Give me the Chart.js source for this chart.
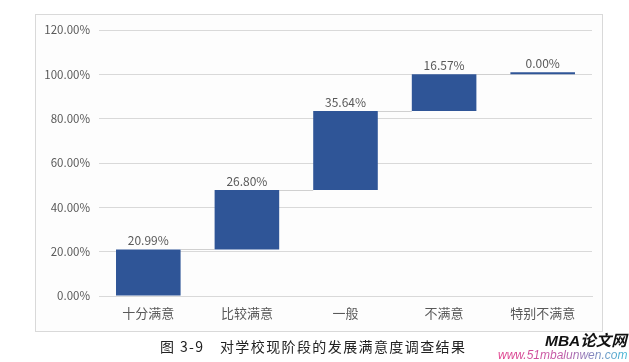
<!DOCTYPE html>
<html>
<head>
<meta charset="utf-8">
<script src="https://cdn.jsdelivr.net/npm/chart.js@4/dist/chart.umd.min.js"></script>
<style>
  html, body { margin: 0; padding: 0; background: #ffffff; }
  #wrap { position: relative; width: 629px; height: 362px; overflow: hidden; }
  #frame {
    position: absolute; left: 35px; top: 14px; width: 566px; height: 316px;
    border: 1px solid #d9d9d9; background: #fdfdfd;
  }
  #chart { position: absolute; left: 0; top: 0; }
  #caption {
    position: absolute; left: 160px; top: 336px; font-size: 14px; letter-spacing: 1.4px;
    color: #222; font-family: "Noto Sans CJK SC", sans-serif; white-space: nowrap;
  }
  #logo {
    position: absolute; left: 545px; top: 331px; font-size: 15.5px; font-weight: bold;
    font-style: italic; color: #111; font-family: "Liberation Sans", "Noto Sans CJK SC", sans-serif;
    white-space: nowrap; line-height: 20px;
  }
  #site {
    position: absolute; left: 498px; top: 348px; font-size: 12px; font-style: italic;
    font-family: "Liberation Sans", sans-serif; white-space: nowrap; line-height: 14px;
    background: linear-gradient(90deg, #e23c8a, #c05aa8, #3fb8d6);
    -webkit-background-clip: text; background-clip: text; color: transparent;
  }
</style>
</head>
<body>
<div id="wrap">
  <div id="frame"></div>
  <canvas id="chart" width="629" height="362"></canvas>
  <div id="caption">图 3-9　对学校现阶段的发展满意度调查结果</div>
  <div id="logo">MBA论文网</div>
  <div id="site">www.51mbalunwen.com</div>
</div>
<script>
// Survey data: satisfaction with the school's current development
const categories = ['十分满意', '比较满意', '一般', '不满意', '特别不满意'];
const increments = [20.99, 26.80, 35.64, 16.57, 0.00];
const yTickValues = [0, 20, 40, 60, 80, 100, 120];

const colors = {
    bar: '#2f5597',
    grid: '#d9d9d9',
    connector: '#d0d0d0',
    text: '#595959'
};

// waterfall ranges built from the increments
const ranges = [];
let running = 0;
increments.forEach(v => {
    ranges.push([running, running + v]);
    running += v;
});

// value labels above each step
const valueLabels = {
    id: 'valueLabels',
    afterDatasetsDraw(chart) {
        const ctx = chart.ctx;
        const meta = chart.getDatasetMeta(0);
        ctx.save();
        ctx.font = '12px "Noto Sans CJK SC", sans-serif';
        ctx.fillStyle = colors.text;
        ctx.textAlign = 'center';
        ctx.textBaseline = 'bottom';
        meta.data.forEach((bar, i) => {
            const top = Math.min(bar.y, bar.base);
            ctx.fillText(increments[i].toFixed(2) + '%', bar.x, top - 3);
        });
        ctx.restore();
    }
};

// grey connector lines between the steps
const connectors = {
    id: 'connectors',
    beforeDatasetsDraw(chart) {
        const ctx = chart.ctx;
        const meta = chart.getDatasetMeta(0);
        const y = chart.scales.y;
        ctx.save();
        ctx.strokeStyle = colors.connector;
        ctx.lineWidth = 1;
        for (let i = 0; i < meta.data.length - 1; i++) {
            const a = meta.data[i], b = meta.data[i + 1];
            const py = Math.round(y.getPixelForValue(ranges[i][1])) + 0.5;
            ctx.beginPath();
            ctx.moveTo(a.x + a.width / 2, py);
            ctx.lineTo(b.x - b.width / 2, py);
            ctx.stroke();
        }
        ctx.restore();
    }
};

new Chart(document.getElementById('chart'), {
    type: 'bar',
    data: {
        labels: categories,
        datasets: [{
            data: ranges,
            backgroundColor: colors.bar,
            borderWidth: 0,
            barPercentage: 0.655,
            categoryPercentage: 1,
            minBarLength: 2
        }]
    },
    options: {
        responsive: false,
        animation: false,
        devicePixelRatio: 1,
        layout: { padding: { left: 36, right: 37, top: 30, bottom: 0 } },
        plugins: {
            legend: { display: false },
            tooltip: { enabled: false }
        },
        scales: {
            y: {
                min: 0,
                max: 120,
                afterBuildTicks(scale) {
                    scale.ticks = yTickValues.map(v => ({ value: v }));
                },
                afterFit(scale) { scale.width = 63; },
                grid: { color: colors.grid, drawTicks: false },
                border: { display: false },
                ticks: {
                    padding: 9,
                    color: colors.text,
                    font: { size: 11.5, family: '"Noto Sans CJK SC", sans-serif' },
                    callback: v => v.toFixed(2) + '%'
                }
            },
            x: {
                afterFit(scale) { scale.height = 66; },
                grid: { display: false, drawTicks: false },
                border: { color: colors.grid },
                ticks: {
                    padding: 9,
                    color: colors.text,
                    font: { size: 13, family: '"Noto Sans CJK SC", sans-serif' }
                }
            }
        }
    },
    plugins: [connectors, valueLabels]
});
</script>
</body>
</html>
